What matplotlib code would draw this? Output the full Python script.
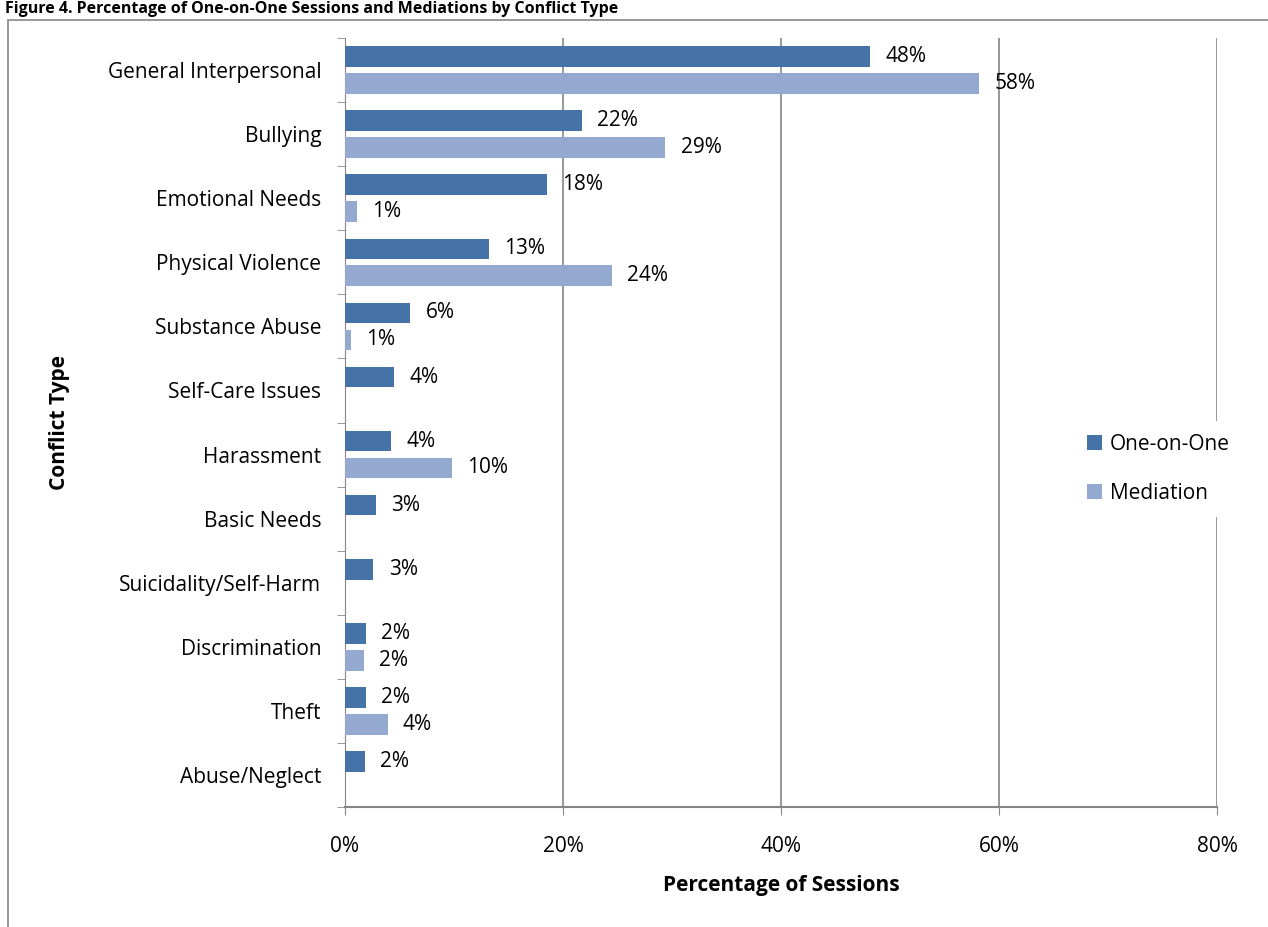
import numpy as np
import matplotlib.pyplot as plt
from matplotlib.patches import Rectangle

# data (percent of sessions)
categories = ["General Interpersonal", "Bullying", "Emotional Needs", "Physical Violence",
              "Substance Abuse", "Self-Care Issues", "Harassment", "Basic Needs",
              "Suicidality/Self-Harm", "Discrimination", "Theft", "Abuse/Neglect"]
one_on_one = [48.2, 21.7, 18.5, 13.2, 6.0, 4.5, 4.2, 2.8, 2.6, 1.9, 1.9, 1.8]
mediation = [58.2, 29.4, 1.1, 24.5, 0.55, np.nan, 9.8, np.nan, np.nan, 1.7, 3.9, np.nan]
x_ticks = [0, 20, 40, 60, 80]

dark = "#4572A7"
light = "#93A9CF"
grid_col = "#868686"

plt.rcParams['font.family'] = ['Open Sans', 'DejaVu Sans']

fig = plt.figure(figsize=(12.68, 9.27), dpi=100)
ax = fig.add_axes([345 / 1268, 1 - 807 / 927, 872 / 1268, 769 / 927])

# outer chart border like the spreadsheet frame
fig.patches.append(Rectangle((8 / 1268, -0.1), 1.2, 1 - 20 / 927 + 0.1,
                             transform=fig.transFigure, fill=False,
                             edgecolor="#868686", linewidth=1.2))

# title squeezed above the frame
fig.text(0.004, 1 - 1 / 927, "Figure 4. Percentage of One-on-One Sessions and Mediations by Conflict Type",
         fontsize=11.5, fontweight="bold", va="top", ha="left")

y = np.arange(len(categories))
off = 0.21
h = 0.32
ax.barh(y - off, one_on_one, height=h, color=dark, label="One-on-One", zorder=3)
med_vals = np.nan_to_num(mediation)
ax.barh(y + off, med_vals, height=h, color=light, label="Mediation", zorder=3)

for i, v in enumerate(one_on_one):
    ax.text(v + 1.4, i - off, f"{round(v)}%", va="center", ha="left", fontsize=15)
for i, v in enumerate(mediation):
    if not np.isnan(v):
        ax.text(v + 1.4, i + off, f"{max(1, round(v))}%", va="center", ha="left", fontsize=15)

ax.set_xlim(0, 80)
ax.set_ylim(len(categories) - 0.5, -0.5)
ax.set_xticks(x_ticks)
ax.set_xticklabels([f"{t}%" for t in x_ticks], fontsize=15)
ax.set_yticks(y)
ax.set_yticklabels(categories, fontsize=15)
ax.set_yticks(np.arange(-0.5, len(categories), 1), minor=True)

ax.tick_params(axis="y", which="major", length=0, pad=17)
ax.tick_params(axis="y", which="minor", length=6, color=grid_col, direction="out")
ax.tick_params(axis="x", length=6, color=grid_col, direction="out", pad=15)

ax.grid(axis="x", color=grid_col, linewidth=1.2, zorder=0)
for s in ["top", "right"]:
    ax.spines[s].set_visible(False)
ax.spines["left"].set_color(grid_col)
ax.spines["bottom"].set_color(grid_col)
ax.spines["bottom"].set_linewidth(1.5)

ax.set_xlabel("Percentage of Sessions", fontsize=15, fontweight="bold", labelpad=13)
ax.set_ylabel("Conflict Type", fontsize=15, fontweight="bold", labelpad=27)

leg = ax.legend(loc="center left", bbox_to_anchor=(1064 / 1268, 1 - 469 / 927),
                bbox_transform=fig.transFigure, frameon=True, fontsize=15,
                handlelength=0.7, handleheight=0.7, handletextpad=0.4,
                labelspacing=1.35, borderpad=0.6, framealpha=1)
leg.get_frame().set_edgecolor("white")
leg.get_frame().set_linewidth(0)
leg.set_zorder(5)

fig.savefig("out.png", dpi=100)
